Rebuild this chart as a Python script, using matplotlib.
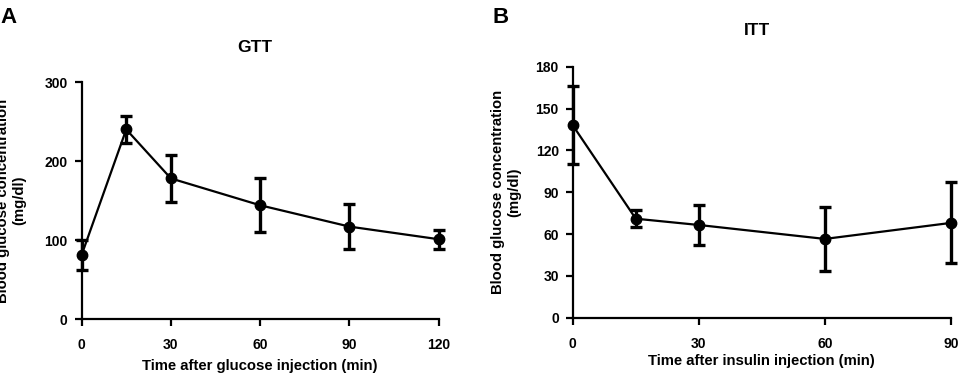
import matplotlib
matplotlib.use('Agg')
import matplotlib.pyplot as plt

plt.rcParams['font.family'] = ['Liberation Sans', 'DejaVu Sans']
plt.rcParams['font.weight'] = 'bold'

# GTT data (mg/dl)
gtt_time = [0, 15, 30, 60, 90, 120]
gtt_mean = [81, 240, 178, 144, 117, 101]
gtt_err = [19, 17, 30, 34, 28, 12]
gtt_yticks = [0, 100, 200, 300]
gtt_xticks = [0, 30, 60, 90, 120]

# ITT data (mg/dl)
itt_time = [0, 15, 30, 60, 90]
itt_mean = [138, 71, 66.5, 56.5, 68]
itt_err = [28, 6, 14.5, 23, 29]
itt_yticks = [0, 30, 60, 90, 120, 150, 180]
itt_xticks = [0, 30, 60, 90]

ylabel = 'Blood glucose concentration\n(mg/dl)'


def style_axis(ax, xticks, yticks):
    ax.spines['top'].set_visible(False)
    ax.spines['right'].set_visible(False)
    for s in ('left', 'bottom'):
        ax.spines[s].set_linewidth(1.6)
    ax.tick_params(width=1.6, length=5, labelsize=10)
    ax.tick_params(axis='x', pad=9)
    ax.tick_params(axis='y', pad=5)
    ax.set_xticks(xticks)
    ax.set_yticks(yticks)
    ax.set_xlim(xticks[0], xticks[-1])
    ax.set_ylim(yticks[0], yticks[-1])
    for lbl in ax.get_xticklabels() + ax.get_yticklabels():
        lbl.set_fontweight('bold')


def draw(ax, t, m, e):
    ax.errorbar(t, m, yerr=e, color='black', lw=1.6, marker='o', ms=7.5,
                elinewidth=2.4, capsize=4, capthick=2.4, clip_on=False, zorder=3)


fig = plt.figure(figsize=(9.6, 3.78), dpi=100)

axA = fig.add_axes([0.085, 0.156, 0.372, 0.627])
draw(axA, gtt_time, gtt_mean, gtt_err)
style_axis(axA, gtt_xticks, gtt_yticks)
axA.set_xlabel('Time after glucose injection (min)', fontsize=10.7, fontweight='bold', labelpad=5)
axA.set_ylabel(ylabel, fontsize=10.7, fontweight='bold')
axA.yaxis.set_label_coords(-0.155, 0.5)
fig.text(0.265, 0.875, 'GTT', ha='center', va='center', fontsize=12.5, fontweight='bold')
fig.text(0.0, 0.955, 'A', ha='left', va='center', fontsize=16, fontweight='bold')

axB = fig.add_axes([0.5966, 0.1595, 0.394, 0.664])
draw(axB, itt_time, itt_mean, itt_err)
style_axis(axB, itt_xticks, itt_yticks)
axB.set_xlabel('Time after insulin injection (min)', fontsize=10.7, fontweight='bold', labelpad=2)
axB.set_ylabel(ylabel, fontsize=10.7, fontweight='bold')
axB.yaxis.set_label_coords(-0.135, 0.5)
fig.text(0.789, 0.92, 'ITT', ha='center', va='center', fontsize=12.5, fontweight='bold')
fig.text(0.513, 0.955, 'B', ha='left', va='center', fontsize=16, fontweight='bold')

fig.savefig('out.png', dpi=100)
